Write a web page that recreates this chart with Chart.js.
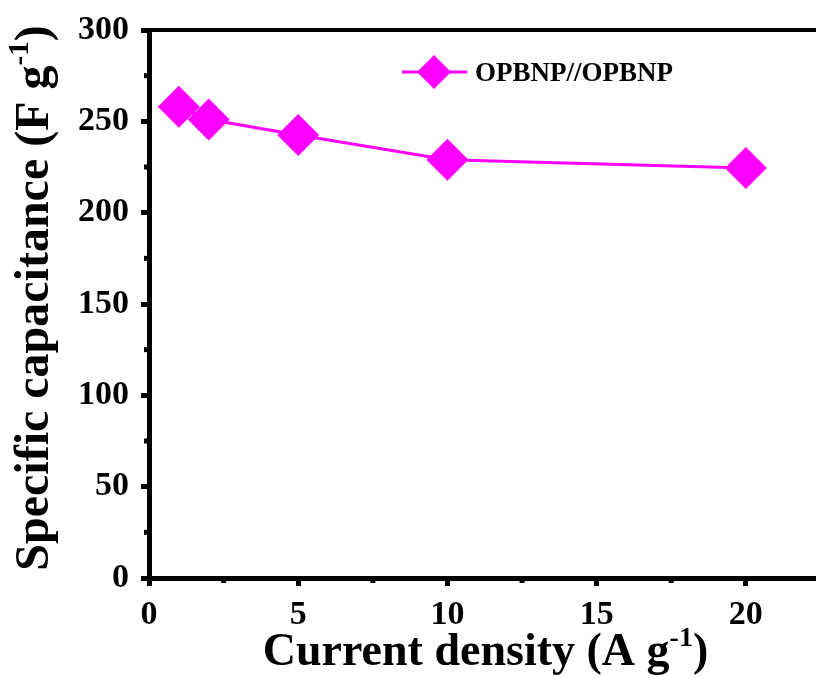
<!DOCTYPE html>
<html>
<head>
<meta charset="utf-8">
<script src="https://cdn.jsdelivr.net/npm/chart.js@4/dist/chart.umd.min.js"></script>
<style>
  html, body { margin: 0; padding: 0; background: #fff; }
  #wrap { width: 816px; height: 678px; }
</style>
</head>
<body>
<div id="wrap"><canvas id="capChart" width="816" height="678"></canvas></div>
<script>
// values
const currentDensity = [1, 2, 5, 10, 20];
const capacitance = [258, 251, 242.5, 229, 224.5];
const seriesLabel = 'OPBNP//OPBNP';
const xMajorTicks = [0, 5, 10, 15, 20];
const xMinorTicks = [2.5, 7.5, 12.5, 17.5];
const yMinorTicks = [25, 75, 125, 175, 225, 275];

const SERIF = '"Liberation Serif", "Times New Roman", serif';
const MAGENTA = '#ff00ff';

// superscript-aware text: parts = [[text, isSup], ...]
function measureParts(ctx, parts, size, supSize) {
    let w = 0;
    parts.forEach(p => {
        ctx.font = `bold ${p[1] ? supSize : size}px ${SERIF}`;
        w += ctx.measureText(p[0]).width;
    });
    return w;
}
function drawParts(ctx, parts, x, y, size, supSize, rise) {
    let cx = x;
    parts.forEach(p => {
        ctx.font = `bold ${p[1] ? supSize : size}px ${SERIF}`;
        ctx.fillText(p[0], cx, p[1] ? y - rise : y);
        cx += ctx.measureText(p[0]).width;
    });
}

const extrasPlugin = {
    id: 'extras',
    afterDraw(chart) {
        const { ctx, chartArea, scales } = chart;
        const xs = scales.x, ys = scales.y;
        ctx.save();
        ctx.fillStyle = '#000';
        // minor ticks
        xMinorTicks.forEach(v => {
            const px = xs.getPixelForValue(v);
            ctx.fillRect(px - 2.5, chartArea.bottom, 5, 5);
        });
        yMinorTicks.forEach(v => {
            const py = ys.getPixelForValue(v);
            ctx.fillRect(chartArea.left - 5, py - 2.5, 5, 5);
        });

        // legend
        const ds = chart.data.datasets[0];
        const ly = chartArea.top + 42;
        const lx = chartArea.left + 253;
        ctx.strokeStyle = ds.borderColor;
        ctx.lineWidth = 3;
        ctx.beginPath();
        ctx.moveTo(lx, ly);
        ctx.lineTo(lx + 65, ly);
        ctx.stroke();
        const r = 17, cx = lx + 32;
        ctx.fillStyle = ds.backgroundColor;
        ctx.beginPath();
        ctx.moveTo(cx - r, ly);
        ctx.lineTo(cx, ly - r);
        ctx.lineTo(cx + r, ly);
        ctx.lineTo(cx, ly + r);
        ctx.closePath();
        ctx.fill();
        ctx.fillStyle = '#000';
        ctx.font = `bold 27px ${SERIF}`;
        ctx.textBaseline = 'alphabetic';
        ctx.textAlign = 'left';
        ctx.fillText(ds.label, lx + 73, ly + 9);

        // axis titles
        const xt = [['Current density (A g', false], ['-1', true], [')', false]];
        const xw = measureParts(ctx, xt, 46, 28);
        const xc = (chartArea.left + chartArea.right) / 2 + 3;
        drawParts(ctx, xt, xc - xw / 2, 665, 46, 28, 19);

        const yt = [['Specific capacitance (F g', false], ['-1', true], [')', false]];
        const yw = measureParts(ctx, yt, 48, 29);
        ctx.translate(48, (chartArea.top + chartArea.bottom) / 2 - 6);
        ctx.rotate(-Math.PI / 2);
        drawParts(ctx, yt, -yw / 2, 0, 48, 29, 20);
        ctx.restore();
    }
};

new Chart(document.getElementById('capChart'), {
    type: 'line',
    data: {
        datasets: [{
            label: seriesLabel,
            data: currentDensity.map((x, i) => ({ x, y: capacitance[i] })),
            borderColor: MAGENTA,
            backgroundColor: MAGENTA,
            borderWidth: 3,
            pointStyle: 'rectRot',
            pointRadius: 21,
            pointBorderWidth: 0,
            pointBackgroundColor: MAGENTA,
            tension: 0
        }]
    },
    options: {
        responsive: false,
        animation: false,
        layout: { autoPadding: false, padding: { top: 30, right: 0, left: 0, bottom: 0 } },
        plugins: { legend: { display: false }, tooltip: { enabled: false } },
        scales: {
            x: {
                type: 'linear',
                min: 0,
                max: 22.35,
                afterBuildTicks: s => { s.ticks = xMajorTicks.map(v => ({ value: v })); },
                afterFit: s => { s.height = 100; s.paddingRight = 0; s.paddingLeft = 0; },
                grid: { drawOnChartArea: false, drawTicks: true, tickLength: 8, lineWidth: 5, color: '#000' },
                border: { display: true, width: 5, color: '#000' },
                ticks: { color: '#000', padding: 9, maxRotation: 0, font: { family: SERIF, size: 34, weight: 'bold' } }
            },
            xTop: {
                type: 'linear',
                position: 'top',
                min: 0,
                max: 22.35,
                afterFit: s => { s.height = 0; s.paddingRight = 0; s.paddingLeft = 0; },
                grid: { display: false },
                border: { display: true, width: 4, color: '#000' },
                ticks: { display: false }
            },
            y: {
                min: 0,
                max: 300,
                ticks: { stepSize: 50, color: '#000', padding: 12, font: { family: SERIF, size: 34, weight: 'bold' } },
                afterFit: s => { s.width = 149; s.paddingTop = 0; s.paddingBottom = 0; },
                grid: { drawOnChartArea: false, drawTicks: true, tickLength: 8, lineWidth: 5, color: '#000' },
                border: { display: true, width: 5, color: '#000' }
            }
        }
    },
    plugins: [extrasPlugin]
});
</script>
</body>
</html>
